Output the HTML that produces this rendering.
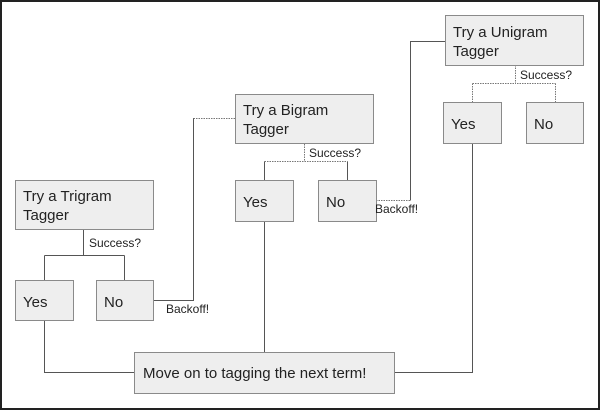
<!DOCTYPE html>
<html><head><meta charset="utf-8"><style>
html,body{margin:0;padding:0;background:#fff}
svg{display:block}
text{font-family:"Liberation Sans",Arial,sans-serif;fill:#222}
.b{fill:#eeeeee;stroke:#8a8a8a;stroke-width:1}
.l{stroke:#555;stroke-width:1;fill:none}
.d{stroke:#777;stroke-width:1;fill:none;stroke-dasharray:1.5 1}
.t{font-size:15px}
.s{font-size:12px}
</style></head><body>
<svg width="600" height="410" viewBox="0 0 600 410" xmlns="http://www.w3.org/2000/svg">
<rect x="1" y="1" width="598" height="408" fill="#fff" stroke="#222" stroke-width="2"/>
<!-- connectors -->
<path class="l" d="M83.5 230 V255.5 M44.5 255.5 H124.5 M44.5 255.5 V280 M124.5 255.5 V280"/>
<path class="l" d="M153 300.5 H193.5 V118"/>
<path class="d" d="M193.5 118.5 H235"/>
<path class="d" d="M304.5 144 V161.5 H347.5 M264.5 161.5 H304.5"/>
<path class="l" d="M264.5 161.5 V180 M347.5 161.5 V180"/>
<path class="d" d="M376 200.5 H410.5"/>
<path class="l" d="M410.5 200.5 V41.5 H445"/>
<path class="d" d="M515.5 65 V83.5 H555.5 M472.5 83.5 H515.5 M472.5 83.5 V102 M555.5 83.5 V102"/>
<path class="l" d="M44.5 321 V372.5 H134 M264.5 222 V352 M472.5 143 V372.5 H394"/>
<!-- boxes -->
<rect class="b" x="15.5" y="180.5" width="138" height="49"/>
<text class="t" x="23" y="201">Try a Trigram</text><text class="t" x="23" y="220">Tagger</text>
<text class="s" x="89" y="247">Success?</text>
<rect class="b" x="15.5" y="280.5" width="58" height="40"/>
<text class="t" x="23" y="307">Yes</text>
<rect class="b" x="96.5" y="280.5" width="57" height="40"/>
<text class="t" x="104" y="307">No</text>
<text class="s" x="166" y="313">Backoff!</text>

<rect class="b" x="235.5" y="94.5" width="138" height="49"/>
<text class="t" x="243" y="115">Try a Bigram</text><text class="t" x="243" y="134">Tagger</text>
<text class="s" x="309" y="157">Success?</text>
<rect class="b" x="235.5" y="180.5" width="58" height="41"/>
<text class="t" x="243" y="207">Yes</text>
<rect class="b" x="318.5" y="180.5" width="58" height="41"/>
<text class="t" x="326" y="207">No</text>
<text class="s" x="375" y="213">Backoff!</text>

<rect class="b" x="445.5" y="15.5" width="138" height="50"/>
<text class="t" x="453" y="37">Try a Unigram</text><text class="t" x="453" y="56">Tagger</text>
<text class="s" x="520" y="79">Success?</text>
<rect class="b" x="443.5" y="102.5" width="58" height="41"/>
<text class="t" x="451" y="129">Yes</text>
<rect class="b" x="526.5" y="102.5" width="57" height="41"/>
<text class="t" x="534" y="129">No</text>

<rect class="b" x="134.5" y="352.5" width="260" height="41"/>
<text class="t" x="143" y="378">Move on to tagging the next term!</text>
</svg>
</body></html>
